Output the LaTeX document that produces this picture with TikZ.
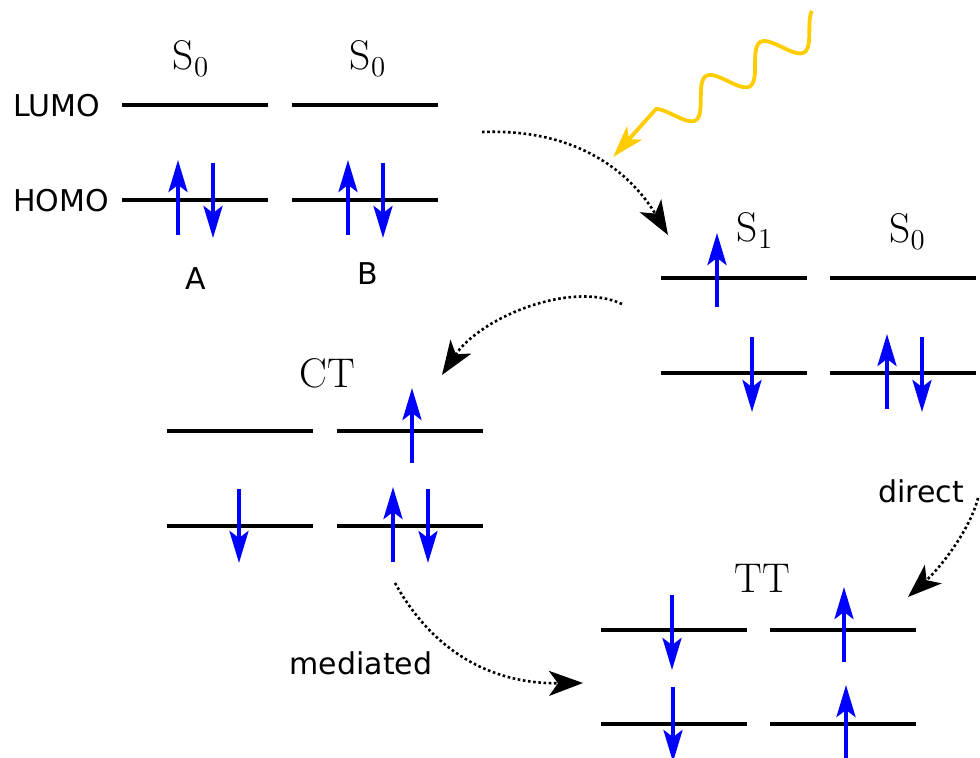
\documentclass[tikz,border=0pt]{standalone}
\usepackage{fontspec}
\newfontfamily\dejavu{DejaVu Sans}
\usetikzlibrary{arrows.meta}
\definecolor{photonyellow}{RGB}{255,204,0}
\definecolor{spinblue}{RGB}{0,0,255}
\begin{document}
\begin{tikzpicture}[x=0.5pt,y=-0.5pt,
  lvl/.style={line width=2pt, black},
  spin/.style={line width=2pt, spinblue, -{Stealth[length=16pt,width=9.5pt,inset=3.5pt]}},
  trans/.style={line width=1.3pt, dash pattern=on 1.3pt off 1.3pt, -{Stealth[length=17pt,width=12.5pt,inset=4.5pt]}},
  photon/.style={line width=1.9pt, photonyellow, line join=round, -{Stealth[length=16pt,width=10pt,inset=4pt]}},
  statelbl/.style={font=\fontsize{20.74}{25}\selectfont, inner sep=0pt, anchor=base},
  sanslbl/.style={font=\dejavu\fontsize{15}{18}\selectfont, inner sep=0pt, anchor=base}]
\useasboundingbox (0,0) rectangle (980,758);

% ground state A/B
\begin{scope}[shift={(122,105)}]
  \draw[lvl] (0,0)--(146,0) (170,0)--(316,0) (0,95)--(146,95) (170,95)--(316,95);
  \draw[spin] (56,130)--(56,55);
  \draw[spin] (91,58)--(91,133);
  \draw[spin] (226,130)--(226,55);
  \draw[spin] (261,58)--(261,133);
\end{scope}
\node[sanslbl, anchor=base west] (lumo) at (13,117) {LUMO};
\node[sanslbl, anchor=base west] (homo) at (13,212) {HOMO};
\node[statelbl] (s0a) at (191,70) {$\mathrm{S}_0$};
\node[statelbl] (s0b) at (368,70) {$\mathrm{S}_0$};
\node[sanslbl] (lblA) at (196,290) {A};
\node[sanslbl] (lblB) at (368,285) {B};

% S1 S0
\begin{scope}[shift={(661,278)}]
  \draw[lvl] (0,0)--(146,0) (169,0)--(315,0) (0,95)--(146,95) (169,95)--(315,95);
  \draw[spin] (56,29)--(56,-45);
  \draw[spin] (91,59)--(91,134);
  \draw[spin] (226,131)--(226,56);
  \draw[spin] (261,59)--(261,134);
\end{scope}
\node[statelbl] (s1) at (755,242) {$\mathrm{S}_1$};
\node[statelbl] (s0c) at (907.5,243) {$\mathrm{S}_0$};

% CT
\begin{scope}[shift={(167,431)}]
  \draw[lvl] (0,0)--(146,0) (170,0)--(316,0) (0,95)--(146,95) (170,95)--(316,95);
  \draw[spin] (245,32)--(245,-43);
  \draw[spin] (72,58)--(72,132);
  \draw[spin] (226,131)--(226,56);
  \draw[spin] (261,58)--(261,132);
\end{scope}
\node[statelbl] (ct) at (327,388) {CT};

% TT
\begin{scope}[shift={(601,630)}]
  \draw[lvl] (0,0)--(146,0) (169,0)--(315,0) (0,94)--(146,94) (169,94)--(315,94);
  \draw[spin] (71,-35)--(71,40);
  \draw[spin] (243,32)--(243,-43);
  \draw[spin] (72,57)--(72,132);
  \draw[spin] (245,130)--(245,55);
\end{scope}
\node[statelbl] (tt) at (762,593) {TT};

\node[sanslbl] (direct) at (921,503) {direct};
\node[sanslbl] (mediated) at (361,675) {mediated};

% transitions
\coordinate (g1out) at (482,132);
\coordinate (s1in) at (668,235);
\coordinate (s1out) at (622,304);
\coordinate (ctin) at (442,375);
\coordinate (ctout) at (395,583);
\coordinate (ttinm) at (583,683);
\coordinate (s1outd) at (978,498);
\coordinate (ttind) at (908,597);
\coordinate (photontip) at (613,157);

\draw[trans] (g1out) .. controls (585,128) and (635,180) .. (s1in);
\draw[trans] (s1out) .. controls (570,280) and (480,318) .. (ctin);
\draw[trans] (ctout) .. controls (435,655) and (495,684) .. (ttinm);
\draw[trans] (s1outd) .. controls (970,530) and (940,568) .. (ttind);

% photon
\draw[photon] plot[domain=-93:91, samples=200, smooth, variable=\t]
  ({741-0.848*\t-8.48*sin(5.625*(\t+48.6))}, {73+0.530*\t-13.57*sin(5.625*(\t+48.6))})
  -- (photontip);
\end{tikzpicture}
\end{document}
